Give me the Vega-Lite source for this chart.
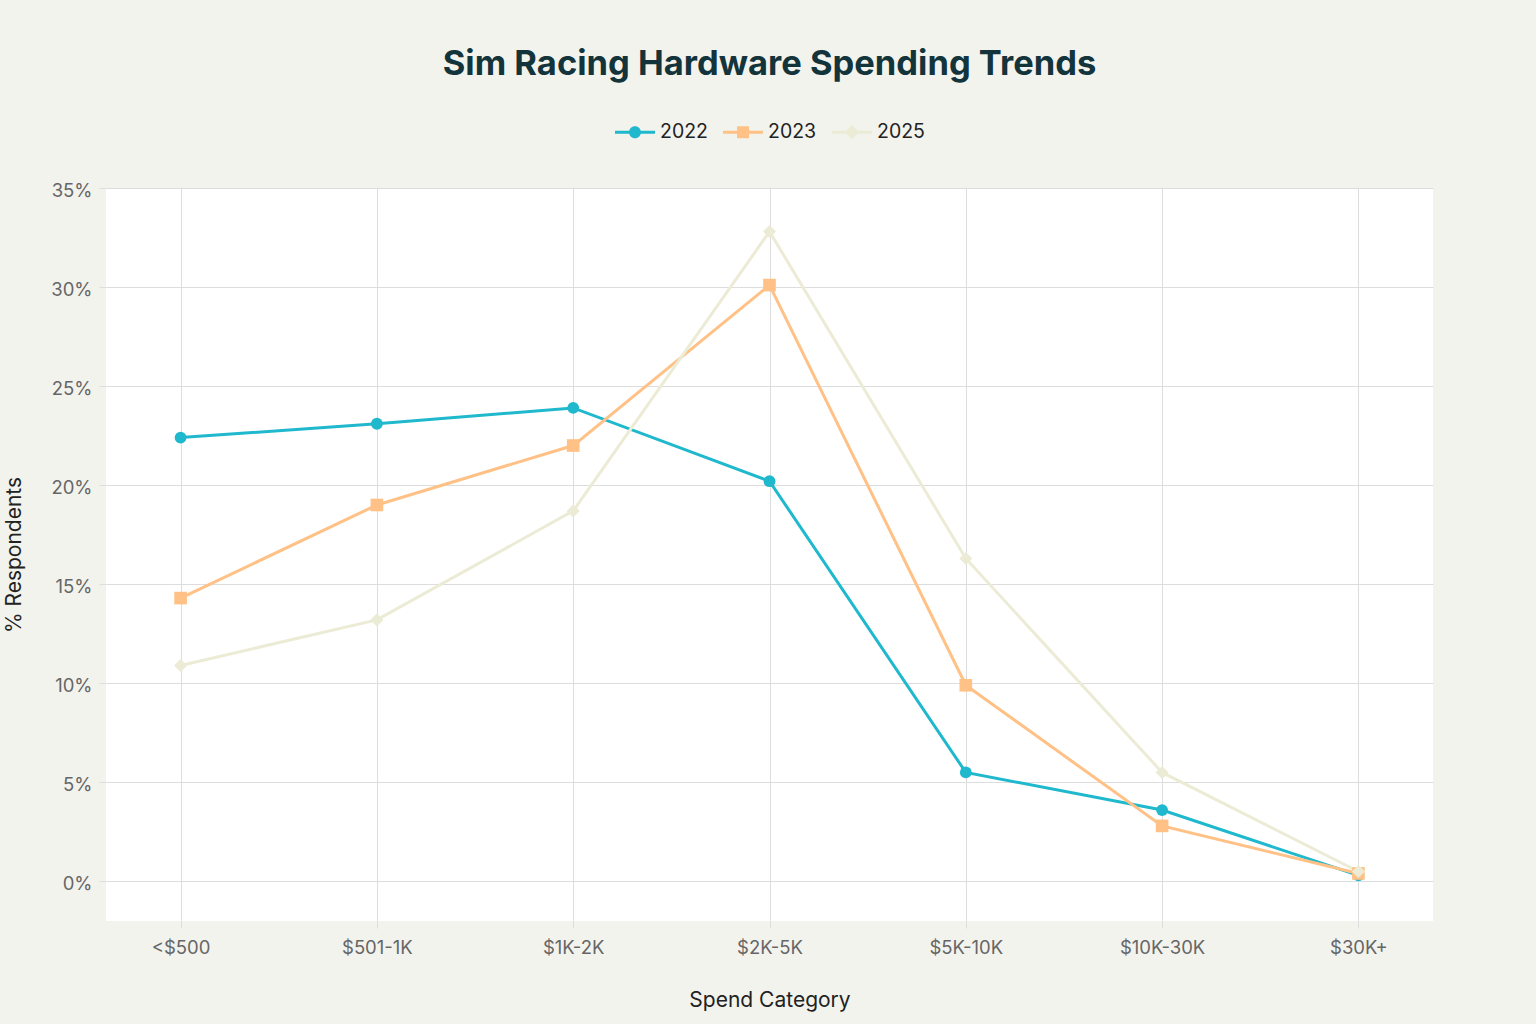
{
  "$schema": "https://vega.github.io/schema/vega-lite/v6.json",
  "autosize": {"type": "none"},
  "width": 1327,
  "height": 733,
  "padding": {"left": 106, "top": 188, "right": 103, "bottom": 103},
  "background": "#F3F3EE",
  "title": {
    "text": "Sim Racing Hardware Spending Trends",
    "font": "Inter",
    "fontSize": 34.5,
    "fontWeight": "bold",
    "color": "#13343B",
    "anchor": "middle",
    "offset": 30
  },
  "data": {
    "values": [
      {"cat": "<$500", "year": "2022", "pct": 22.4},
      {"cat": "$501-1K", "year": "2022", "pct": 23.1},
      {"cat": "$1K-2K", "year": "2022", "pct": 23.9},
      {"cat": "$2K-5K", "year": "2022", "pct": 20.2},
      {"cat": "$5K-10K", "year": "2022", "pct": 5.5},
      {"cat": "$10K-30K", "year": "2022", "pct": 3.6},
      {"cat": "$30K+", "year": "2022", "pct": 0.3},
      {"cat": "<$500", "year": "2023", "pct": 14.3},
      {"cat": "$501-1K", "year": "2023", "pct": 19.0},
      {"cat": "$1K-2K", "year": "2023", "pct": 22.0},
      {"cat": "$2K-5K", "year": "2023", "pct": 30.1},
      {"cat": "$5K-10K", "year": "2023", "pct": 9.9},
      {"cat": "$10K-30K", "year": "2023", "pct": 2.8},
      {"cat": "$30K+", "year": "2023", "pct": 0.4},
      {"cat": "<$500", "year": "2025", "pct": 10.9},
      {"cat": "$501-1K", "year": "2025", "pct": 13.2},
      {"cat": "$1K-2K", "year": "2025", "pct": 18.7},
      {"cat": "$2K-5K", "year": "2025", "pct": 32.8},
      {"cat": "$5K-10K", "year": "2025", "pct": 16.3},
      {"cat": "$10K-30K", "year": "2025", "pct": 5.5},
      {"cat": "$30K+", "year": "2025", "pct": 0.5}
    ]
  },
  "encoding": {
    "x": {
      "field": "cat",
      "type": "nominal",
      "sort": null,
      "scale": {"type": "point", "padding": 0.38},
      "axis": {
        "title": "Spend Category",
        "labelAngle": 0,
        "grid": true,
        "labelPadding": 10,
        "titlePadding": 33
      }
    },
    "y": {
      "field": "pct",
      "type": "quantitative",
      "scale": {"domain": [-2, 35], "nice": false, "zero": false},
      "axis": {
        "title": "% Respondents",
        "values": [0, 5, 10, 15, 20, 25, 30, 35],
        "labelExpr": "datum.value + '%'",
        "labelPadding": 7,
        "labelOffset": 2,
        "titlePadding": 26
      }
    },
    "color": {
      "field": "year",
      "type": "nominal",
      "scale": {"domain": ["2022", "2023", "2025"], "range": ["#1FB8CD", "#FFC185", "#ECEBD5"]},
      "legend": {
        "title": null,
        "orient": "none",
        "direction": "horizontal",
        "legendX": 509,
        "legendY": -76,
        "symbolSize": 1600,
        "labelFontSize": 19.5,
        "labelColor": "#222",
        "labelOffset": 5,
        "columnPadding": 15,
        "encode": {
          "symbols": {
            "update": {
              "shape": {"signal": "datum.value == '2022' ? 'M-1,-0.075H1V0.075H-1Z M0.3,0A0.3,0.3,0,1,1,-0.3,0A0.3,0.3,0,1,1,0.3,0Z' : datum.value == '2023' ? 'M-1,-0.075H1V0.075H-1Z M-0.3,-0.3H0.3V0.3H-0.3Z' : 'M-1,-0.075H1V0.075H-1Z M0,-0.36L0.36,0L0,0.36L-0.36,0Z'"},
              "fill": {"scale": "color", "field": "value"},
              "strokeWidth": {"value": 0},
              "opacity": {"value": 1}
            }
          }
        }
      }
    }
  },
  "layer": [
    {
      "mark": {"type": "line", "strokeWidth": 3}
    },
    {
      "transform": [{"filter": "datum.year == '2022'"}],
      "mark": {"type": "point", "shape": "circle", "filled": true, "opacity": 1, "size": 140}
    },
    {
      "transform": [{"filter": "datum.year == '2023'"}],
      "mark": {"type": "point", "shape": "square", "filled": true, "opacity": 1, "size": 160}
    },
    {
      "transform": [{"filter": "datum.year == '2025'"}],
      "mark": {"type": "point", "shape": "diamond", "filled": true, "opacity": 1, "size": 170}
    }
  ],
  "config": {
    "font": "Inter",
    "view": {"fill": "white", "stroke": null},
    "axis": {
      "domain": false,
      "gridColor": "#DDDDDD",
      "gridWidth": 1,
      "tickColor": "#DDDDDD",
      "tickSize": 7,
      "labelFont": "Inter",
      "labelFontSize": 18.5,
      "labelColor": "#666666",
      "titleFont": "Inter",
      "titleFontSize": 21,
      "titleFontWeight": "normal",
      "titleColor": "#222222"
    },
    "legend": {"labelFont": "Inter"}
  }
}
